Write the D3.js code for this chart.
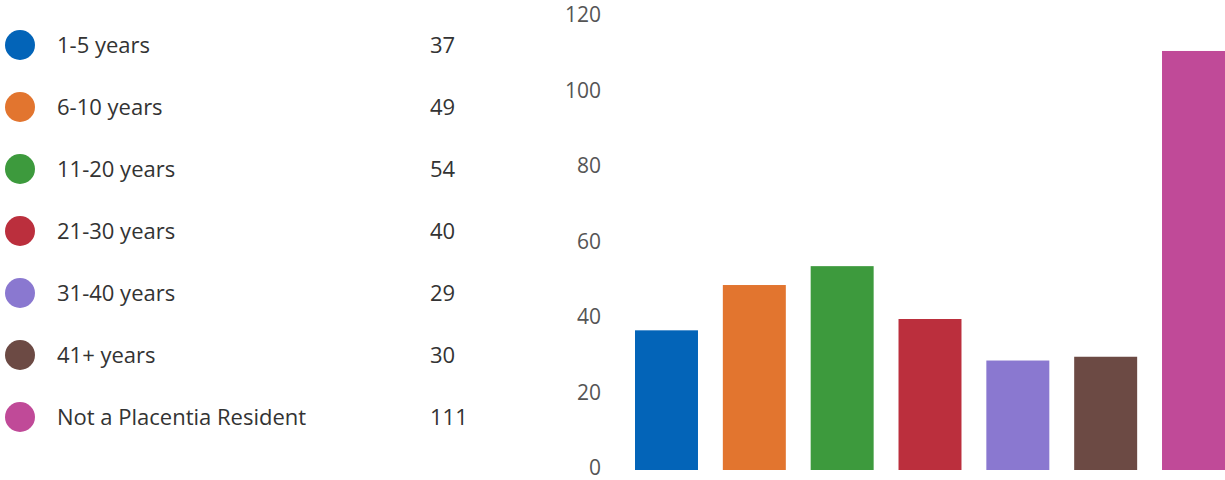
<!DOCTYPE html>
<html><head><meta charset="utf-8">
<script src="https://cdn.jsdelivr.net/npm/d3@7"></script>
<style>body{margin:0;background:#fff;} text{font-family:"Open Sans","Noto Sans",sans-serif;}</style>
</head><body>
<svg id="c" width="1225" height="480"></svg>
<script>
const categories = ["1-5 years","6-10 years","11-20 years","21-30 years","31-40 years","41+ years","Not a Placentia Resident"];
const values = [37,49,54,40,29,30,111];
const colors = ["#0364b8","#e2752f","#3d9a3d","#bb2f3d","#8a78d0","#6c4a44","#c04a98"];
const yTicks = [0,20,40,60,80,100,120];

const svg = d3.select("#c");
const x = d3.scaleBand().domain(categories).range([635,1225]).paddingInner(0.283).paddingOuter(0);
const y = d3.scaleLinear().domain([0,120]).range([470,17]);

const yAxis = d3.axisLeft(y).tickValues(yTicks).tickSize(0).tickPadding(0);
const ga = svg.append("g").attr("transform","translate(601,-2)").call(yAxis);
ga.select(".domain").remove();
ga.selectAll("text").attr("font-size",21).attr("fill","#555").attr("font-family","'Open Sans','Noto Sans',sans-serif");

svg.selectAll("rect.bar").data(values).enter().append("rect").attr("class","bar")
  .attr("x",(d,i)=>x(categories[i])).attr("width",x.bandwidth())
  .attr("y",d=>y(d)).attr("height",d=>y(0)-y(d))
  .attr("fill",(d,i)=>colors[i]);

const leg = d3.scaleBand().domain(categories).range([14,448]);
const rows = svg.selectAll("g.row").data(categories).enter().append("g").attr("class","row")
  .attr("transform",d=>`translate(0,${leg(d)+leg.bandwidth()/2})`);
rows.append("circle").attr("cx",20).attr("cy",0).attr("r",15).attr("fill",(d,i)=>colors[i]);
rows.append("text").attr("x",57).attr("y",0).attr("dy","0.35em").attr("font-size",22).attr("fill","#333").text(d=>d);
rows.append("text").attr("x",430).attr("y",0).attr("dy","0.35em").attr("font-size",22).attr("fill","#333").text((d,i)=>values[i]);
</script>
</body></html>
